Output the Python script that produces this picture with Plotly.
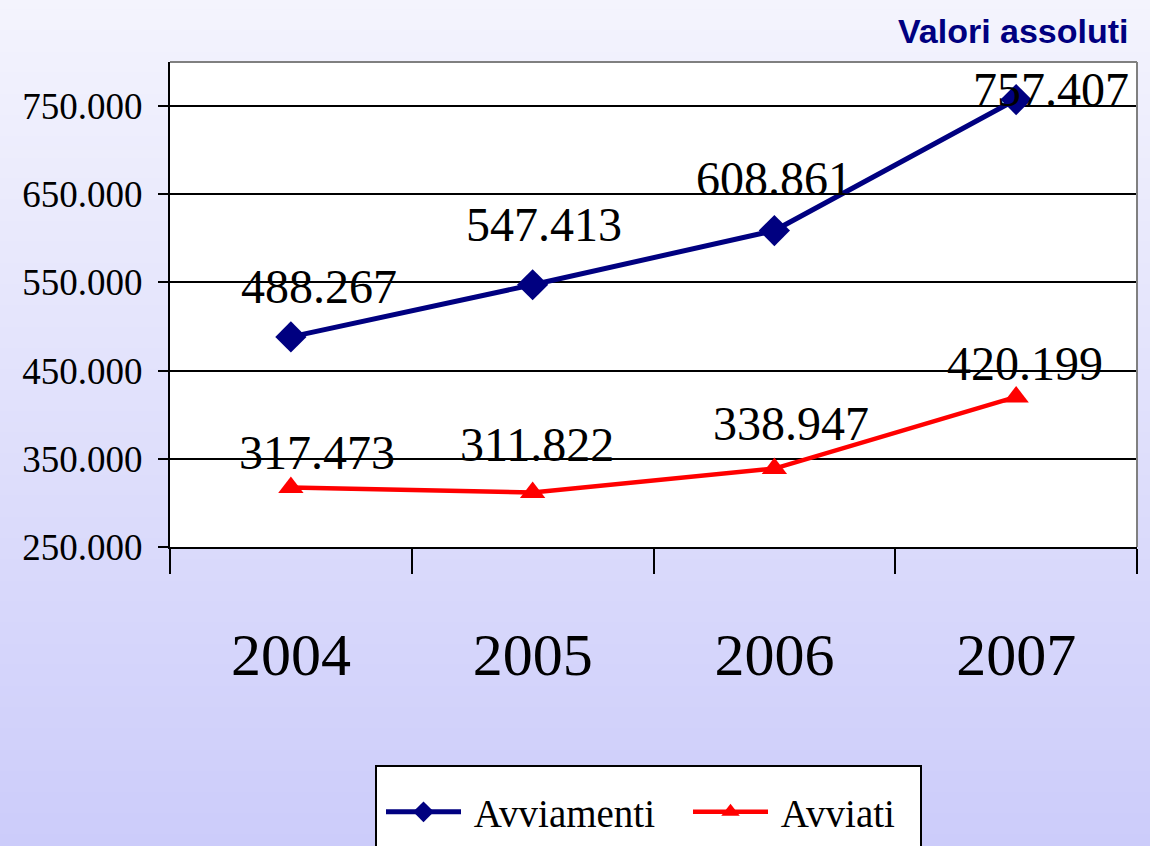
import plotly.graph_objects as go

years = ["2004", "2005", "2006", "2007"]
avviamenti = [488267, 547413, 608861, 757407]
avviati = [317473, 311822, 338947, 420199]
y_ticks = [250000, 350000, 450000, 550000, 650000, 750000]

# label offsets (px) for data labels (style only)
off_avviamenti = [(28, 50), (11, 60), (0, 52), (35, 10)]
off_avviati = [(26, 35), (4, 48), (17, 45), (9, 33)]

W, H = 1150, 846
L, R, T, B = 170, 13, 62, 299
pw, ph = W - L - R, H - T - B
SERIF = "Liberation Serif, Times New Roman, serif"

def fmt(v):
    return f"{v:,}".replace(",", ".")

def px_x(px):
    return (px - L) / pw

def px_y(py):
    return (H - B - py) / ph

fig = go.Figure()
fig.add_trace(go.Scatter(
    x=years, y=avviamenti, name="\u2009Avviamenti", mode="lines+markers",
    line=dict(color="#000080", width=5),
    marker=dict(symbol="diamond", size=24, color="#000080"),
))
fig.add_trace(go.Scatter(
    x=years, y=avviati, name="\u2009Avviati", mode="lines+markers",
    line=dict(color="#FF0000", width=4.5),
    marker=dict(symbol="triangle-up", size=22, color="#FF0000"),
))

annots = []
for vals, offs in ((avviamenti, off_avviamenti), (avviati, off_avviati)):
    for i, (v, (dx, dy)) in enumerate(zip(vals, offs)):
        annots.append(dict(
            x=i, y=v, xref="x", yref="y", text=fmt(v), showarrow=False,
            xanchor="center", yanchor="middle", xshift=dx, yshift=dy,
            font=dict(family=SERIF, size=48, color="black"),
        ))
annots.append(dict(
    x=px_x(1131), y=px_y(31), xref="paper", yref="paper", showarrow=False,
    text="<b>Valori assoluti</b>", xanchor="right", yanchor="middle",
    font=dict(family="Liberation Sans, Arial, sans-serif", size=34, color="#000080"),
))

# background gradient bands
shapes = []
n = 80
c0 = (244, 244, 253)
c1 = (204, 204, 250)
y_lo = px_y(H)
y_hi = px_y(0)
for i in range(n):
    t = i / (n - 1)
    c = tuple(int(round(c0[k] + (c1[k] - c0[k]) * t)) for k in range(3))
    ya = y_hi - (y_hi - y_lo) * i / n
    yb = y_hi - (y_hi - y_lo) * (i + 1) / n
    shapes.append(dict(type="rect", xref="paper", yref="paper",
                       x0=px_x(0), x1=px_x(W), y0=yb - 0.003, y1=ya + 0.003,
                       line=dict(width=0), fillcolor=f"rgb{c}", layer="below"))
shapes.append(dict(type="rect", xref="paper", yref="paper", x0=0, x1=1, y0=0, y1=1,
                   line=dict(width=0), fillcolor="white", layer="below"))
shapes.append(dict(type="line", xref="paper", yref="paper", x0=0, x1=1, y0=1, y1=1,
                   line=dict(color="#808080", width=2)))
shapes.append(dict(type="line", xref="paper", yref="paper", x0=1, x1=1, y0=0, y1=1,
                   line=dict(color="#808080", width=2)))
# legend box
shapes.append(dict(type="rect", xref="paper", yref="paper",
                   x0=px_x(376), x1=px_x(921), y0=px_y(860), y1=px_y(766),
                   line=dict(color="black", width=2), fillcolor="white", layer="above"))

fig.update_layout(
    width=W, height=H,
    margin=dict(l=L, r=R, t=T, b=B, autoexpand=False),
    separators=",.",
    paper_bgcolor="#CCCCF9",
    plot_bgcolor="rgba(0,0,0,0)",
    showlegend=True,
    legend=dict(
        orientation="h", x=px_x(381), xanchor="left", y=px_y(812), yanchor="middle",
        bgcolor="rgba(0,0,0,0)", borderwidth=0,
        font=dict(family=SERIF, size=39, color="black"),
        itemwidth=75, entrywidth=217,
    ),
    annotations=annots,
    shapes=shapes,
    xaxis=dict(
        type="category", range=[-0.5, 3.5], tickson="boundaries",
        ticks="outside", ticklen=25, tickwidth=2, tickcolor="black",
        showline=True, linecolor="black", linewidth=2, showgrid=False,
        ticklabelstandoff=54,
        tickfont=dict(family=SERIF, size=60, color="black"),
        fixedrange=True,
    ),
    yaxis=dict(
        range=[250000, 800000], tickvals=y_ticks, tickformat=",d",
        ticks="outside", ticklen=10, tickwidth=2, tickcolor="black",
        showline=True, linecolor="black", linewidth=2,
        showgrid=True, gridcolor="black", gridwidth=2, zeroline=False,
        ticklabelstandoff=8,
        tickfont=dict(family=SERIF, size=37, color="black"),
        fixedrange=True,
    ),
)

fig.write_html("out.html", config={"displayModeBar": False},
               post_script="document.body.style.margin='0';document.body.style.overflow='hidden';")
